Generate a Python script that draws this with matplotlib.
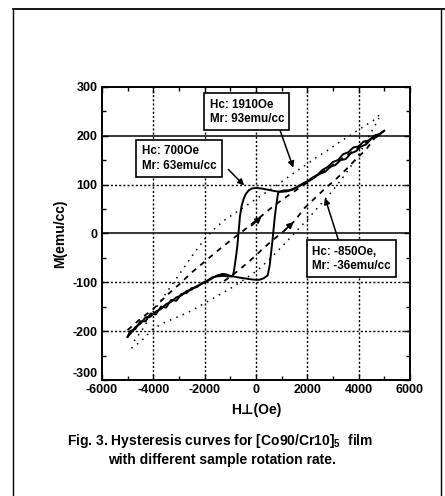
import matplotlib
matplotlib.use('Agg')
import matplotlib.pyplot as plt
from matplotlib.lines import Line2D

plt.rcParams['font.family'] = ['Liberation Sans', 'DejaVu Sans']
plt.rcParams['font.weight'] = 'bold'
plt.rcParams['axes.unicode_minus'] = False
plt.rcParams['mathtext.fontset'] = 'custom'
plt.rcParams['mathtext.rm'] = 'Liberation Sans:bold'
plt.rcParams['mathtext.default'] = 'rm'

# solid loop (Hc ~700 Oe), descending and ascending branches
solid_down_h = [5000, 4800, 4600, 4400, 4200, 4000, 3800, 3600, 3400, 3200, 3000, 2800, 2600, 2400,
                2200, 2000, 1800, 1600, 1400, 1200, 1000, 800, 600, 400, 200, 0, -150, -280, -400,
                -480, -560, -620, -670, -720, -780, -840, -880, -920, -1000, -1150, -1300, -1500,
                -1700, -1900, -2100, -2300, -2500, -2700, -2900, -3100, -3300, -3500, -3700, -3900,
                -4100, -4300, -4500, -4700, -4900, -5000]
solid_down_m = [210, 203, 200, 190, 188, 178, 176, 166, 162, 150, 146, 136, 130, 120,
                114, 106, 100, 94, 89, 86, 85, 86, 88, 90, 92, 93, 92, 88, 80,
                70, 55, 35, 5, -25, -50, -72, -84, -88, -87, -84, -83, -86,
                -92, -98, -103, -108, -115, -118, -127, -131, -140, -145, -155, -160,
                -170, -172, -185, -192, -206, -212]
solid_up_h = [-5000, -4900, -4700, -4500, -4300, -4100, -3900, -3700, -3500, -3300, -3100, -2900,
              -2700, -2500, -2300, -2100, -1900, -1700, -1500, -1300, -1100, -900, -700, -450,
              -200, 0, 135, 300, 460, 540, 590, 640, 680, 730, 785, 840, 875, 950, 1100, 1300,
              1500, 1700, 1900, 2100, 2300, 2500, 2700, 2900, 3100, 3300, 3500, 3700, 3900, 4100,
              4300, 4500, 4700, 4900, 5000]
solid_up_m = [-212, -200, -196, -180, -180, -164, -166, -150, -152, -136, -138, -124,
              -122, -112, -110, -102, -97, -90, -88, -87, -88, -88, -90, -92,
              -94, -95, -95, -92, -86, -65, -41, -18, 3, 30, 54, 74, 84, 86, 88, 88,
              92, 98, 104, 108, 116, 122, 126, 136, 140, 150, 152, 164, 168, 178,
              182, 194, 197, 206, 210]

# dotted loop (Hc 1910 Oe)
dot_down_h = [4800, 4600, 4300, 4000, 3600, 3200, 2800, 2400, 2000, 1600, 1200, 800, 400, 0,
              -400, -800, -1200, -1600, -2000, -2400, -2800, -3200, -3600, -4000, -4400, -4850]
dot_down_m = [242, 232, 222, 212, 198, 185, 170, 157, 142, 128, 113, 98, 84, 70,
              56, 42, 28, 10, -12, -40, -70, -100, -130, -160, -195, -228]
dot_up_h = [-4850, -4500, -4000, -3500, -3000, -2500, -2000, -1500, -1000, -500, 0, 500, 1000,
            1500, 2000, 2500, 3000, 3500, 4000, 4400, 4800]
dot_up_m = [-235, -222, -195, -181, -170, -158, -143, -128, -113, -96, -78, -55, -28,
            0, 28, 58, 88, 122, 160, 198, 236]

# dashed loop (Hc -850 Oe)
dash_up_h = [-5000, -4500, -4000, -3500, -3000, -2500, -2000, -1500, -1000, -500, 0, 500, 1000,
             1500, 2000, 2500, 3000, 3500, 4000, 4500]
dash_up_m = [-198, -175, -155, -128, -105, -80, -58, -36, -15, 5, 26, 48, 68,
             86, 104, 122, 140, 158, 176, 193]
dash_down_h = [4700, 4300, 3900, 3500, 3100, 2700, 2300, 1900, 1500, 1100, 700, 300, -100,
               -500, -900, -1300]
dash_down_m = [200, 172, 152, 130, 110, 92, 72, 52, 25, 5, -12, -30, -50,
               -68, -85, -100]

x_ticks = [-6000, -4000, -2000, 0, 2000, 4000, 6000]
y_ticks = [-300, -200, -100, 0, 100, 200, 300]

fig = plt.figure(figsize=(4.45, 4.96), dpi=100)
ax = fig.add_axes([0.229, 0.234, 0.692, 0.591])

# grid
for x in x_ticks[1:-1]:
    ax.axvline(x, color='black', lw=1.0, ls=(0, (1.5, 1.5)), zorder=1)
for y in y_ticks[1:-1]:
    if y in (0, 200):
        ax.axhline(y, color='black', lw=1.1, zorder=1)
    else:
        ax.axhline(y, color='black', lw=1.0, ls=(0, (1.5, 1.5)), zorder=1)

ax.plot(dot_down_h, dot_down_m, color='black', lw=1.1, ls=(0, (1, 3.5)), zorder=2)
ax.plot(dot_up_h, dot_up_m, color='black', lw=1.1, ls=(0, (1, 3.5)), zorder=2)
ax.plot(dash_up_h, dash_up_m, color='black', lw=1.3, ls=(0, (3, 3)), zorder=2)
ax.plot(dash_down_h, dash_down_m, color='black', lw=1.3, ls=(0, (3, 3)), zorder=2)
ax.plot(solid_down_h, solid_down_m, color='black', lw=1.4, zorder=3)
ax.plot(solid_up_h, solid_up_m, color='black', lw=1.4, zorder=3)

# direction arrows on dashed loop
ax.annotate('', xy=(300, 38), xytext=(-250, 12),
            arrowprops=dict(arrowstyle='-|>', color='black', lw=1.2, mutation_scale=9))
ax.annotate('', xy=(1550, 27), xytext=(1050, 3),
            arrowprops=dict(arrowstyle='-|>', color='black', lw=1.2, mutation_scale=9))

ax.set_xlim(-6000, 6000)
ax.set_ylim(-300, 300)
ax.set_xticks(x_ticks)
ax.set_yticks(y_ticks)
ax.set_xticks(range(-5000, 6000, 2000), minor=True)
ax.set_yticks(range(-250, 300, 50), minor=True)
ax.tick_params(which='both', direction='in', top=True, right=True, width=1.0)
ax.tick_params(which='major', length=4, labelsize=9, pad=3)
ax.tick_params(which='minor', length=3)
for s in ax.spines.values():
    s.set_linewidth(1.4)
for lab in ax.get_xticklabels() + ax.get_yticklabels():
    lab.set_fontweight('bold')
# lowest y label sits a little above the corner, as in the original
ax.get_yticklabels()[0].set_verticalalignment('bottom')

ax.set_xlabel('H\u22a5(Oe)', fontsize=10, fontweight='bold', labelpad=5)
ax.set_ylabel('M(emu/cc)', fontsize=10, fontweight='bold', labelpad=4)

box = dict(boxstyle='square,pad=0.45', facecolor='white', edgecolor='black', lw=1.2)
ax.text(-1800, 249, 'Hc: 1910Oe\nMr: 93emu/cc', fontsize=8.4, fontweight='bold',
        va='center', ha='left', bbox=box, zorder=5, linespacing=1.25)
ax.text(-4450, 153, 'Hc: 700Oe\nMr: 63emu/cc', fontsize=8.4, fontweight='bold',
        va='center', ha='left', bbox=box, zorder=5, linespacing=1.25)
ax.text(2200, -52, 'Hc: -850Oe,\nMr: -36emu/cc', fontsize=8.4, fontweight='bold',
        va='center', ha='left', bbox=box, zorder=5, linespacing=1.25)

arr = dict(arrowstyle='-|>', color='black', lw=1.1, mutation_scale=9)
ax.annotate('', xy=(1495, 129), xytext=(915, 215), arrowprops=arr, zorder=6)
ax.annotate('', xy=(-380, 94), xytext=(-1150, 135), arrowprops=arr, zorder=6)
ax.annotate('', xy=(2660, 78), xytext=(3243, -18), arrowprops=arr, zorder=6)

fig.text(0.494, 1 - 441 / 496, 'Fig. 3. Hysteresis curves for [Co90/Cr10]$_5$  film',
         ha='center', va='center', fontsize=10, fontweight='bold')
fig.text(0.50, 1 - 460 / 496, 'with different sample rotation rate.',
         ha='center', va='center', fontsize=10, fontweight='bold')

# outer frame of the figure panel
W, H = 445.0, 496.0
fig.add_artist(Line2D([13 / W, 13 / W], [0, 1 - 9 / H], transform=fig.transFigure, color='black', lw=1.0))
fig.add_artist(Line2D([13 / W, 1], [1 - 9 / H, 1 - 9 / H], transform=fig.transFigure, color='black', lw=1.3))
fig.add_artist(Line2D([441 / W, 441 / W], [0, 1 - 9 / H], transform=fig.transFigure, color='black', lw=1.0))

fig.savefig('out.png', dpi=100)
